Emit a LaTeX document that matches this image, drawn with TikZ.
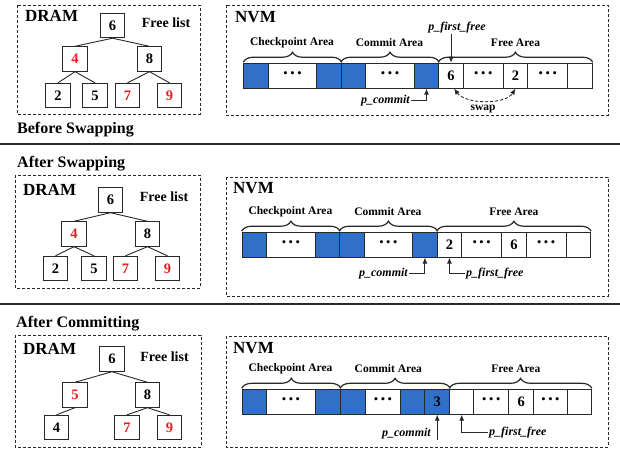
\documentclass[tikz,border=0pt]{standalone}
\usepackage{fontspec}
\setmainfont{Liberation Serif}
\usetikzlibrary{arrows.meta,decorations.pathreplacing}
\definecolor{cblue}{RGB}{48,112,200}
\definecolor{cred}{RGB}{232,30,30}
\definecolor{cline}{RGB}{40,40,40}
\newcommand{\dts}{{\fontsize{19}{19}\selectfont ·\hspace{0.6pt}·\hspace{0.6pt}·}}
\begin{document}
\begin{tikzpicture}[x=1pt,y=-1pt,
 panel/.style={draw=cline, dash pattern=on 3pt off 2pt, line width=0.8pt},
 tnode/.style={draw=cline, line width=0.9pt, minimum size=24.5pt, inner sep=0pt, font=\fontsize{14.5}{14.5}\selectfont\bfseries, fill=white},
 rednum/.style={text=cred},
 tedge/.style={draw=cline, line width=0.9pt},
 cell/.style={draw=cline, line width=0.9pt, minimum height=25pt, inner sep=0pt, anchor=north west, font=\fontsize{14.5}{14.5}\selectfont\bfseries},
 bluecell/.style={cell, fill=cblue},
 brc/.style={decorate, decoration={brace, amplitude=10pt, raise=0.5pt}, line width=1.2pt, draw=cline},
 area/.style={font=\fontsize{11.5}{12}\selectfont\bfseries},
 ptr/.style={font=\fontsize{12}{12}\selectfont\bfseries\itshape, inner sep=1pt},
 arr/.style={draw=cline, line width=0.9pt, -{Latex[length=6pt,width=5pt]}},
 title/.style={font=\fontsize{16}{16}\selectfont\bfseries, anchor=base west, inner sep=0pt},
 big/.style={font=\fontsize{17}{17}\selectfont\bfseries, anchor=base west, inner sep=0pt},
 flist/.style={font=\fontsize{14}{14}\selectfont\bfseries},
 sep/.style={draw=cline, line width=2pt},
]
\useasboundingbox (0,0) rectangle (620,448);

% ================= Panel 1 =================
\draw[panel] (17,5) rectangle (200,114);
\node[big] (dram1) at (25,21) {DRAM};
\node[flist] (fl1) at (166,23) {Free list};
\node[tnode] (a6) at (112.5,25.5) {6};
\node[tnode,rednum] (a4) at (75,59) {4};
\node[tnode] (a8) at (149.5,59) {8};
\node[tnode] (a2) at (58,95.5) {2};
\node[tnode] (a5) at (95,95.5) {5};
\node[tnode,rednum] (a7) at (127.5,95.5) {7};
\node[tnode,rednum] (a9) at (169.5,95.5) {9};
\draw[tedge] (a6.south) -- (a4.north);
\draw[tedge] (a6.south) -- (a8.north);
\draw[tedge] (a4.south) -- (a2.north);
\draw[tedge] (a4.south) -- (a5.north);
\draw[tedge] (a8.south) -- (a7.north);
\draw[tedge] (a8.south) -- (a9.north);
\node[title] (t1) at (17,133) {Before Swapping};

\draw[panel] (226,5) rectangle (608,115);
\node[big] (nvm1) at (235,22) {NVM};
\node[bluecell, minimum width=24.5pt] (p1c1) at (243.3,62.7) {};
\node[cell, minimum width=48.5pt] (p1c2) at (267.8,62.7) {\dts};
\node[bluecell, minimum width=24.5pt] (p1c3) at (316.3,62.7) {};
\node[bluecell, minimum width=24.5pt] (p1c4) at (340.8,62.7) {};
\node[cell, minimum width=48.5pt] (p1c5) at (365.3,62.7) {\dts};
\node[bluecell, minimum width=24.5pt] (p1c6) at (413.8,62.7) {};
\node[cell, minimum width=24.5pt] (p1c7) at (438.3,62.7) {6};
\node[cell, minimum width=40pt] (p1c8) at (462.8,62.7) {\dts};
\node[cell, minimum width=24.5pt] (p1c9) at (502.8,62.7) {2};
\node[cell, minimum width=40pt] (p1c10) at (527.3,62.7) {\dts};
\node[cell, minimum width=24.5pt] (p1c11) at (567.3,62.7) {};
\draw[brc] (p1c1.north west) -- (p1c3.north east);
\draw[brc] (p1c4.north west) -- (p1c6.north east);
\draw[brc] (p1c7.north west) -- (p1c11.north east);
\node[area] (cpa1) at (292,43) {Checkpoint Area};
\node[area] (cma1) at (389.5,43) {Commit Area};
\node[area] (fra1) at (515.5,43) {Free Area};
\node[ptr, anchor=base] (pff1) at (457,30.5) {p\_first\_free};
\draw[arr] (p1c7.north |- pff1.south) -- (p1c7.north);
\node[ptr, anchor=base east] (pc1) at (411,103) {p\_commit};
\draw[arr] (pc1.east) -| (p1c6.south);
\draw[draw=cline, line width=0.9pt, dash pattern=on 3pt off 2pt, {Latex[length=6pt,width=5pt]}-{Latex[length=6pt,width=5pt]}]
  ([xshift=3pt]p1c7.south) .. controls +(12,16) and +(-10,16) .. (p1c9.south);
\node[font=\fontsize{11.5}{11.5}\selectfont\bfseries, anchor=base] (sw1) at (483,110) {swap};

\draw[sep] (0,144) -- (620,144);

% ================= Panel 2 =================
\node[title] (t2) at (17,167) {After Swapping};
\draw[panel] (15,175) rectangle (200,288);
\node[big] (dram2) at (23,195) {DRAM};
\node[flist] (fl2) at (164,197) {Free list};
\node[tnode] (b6) at (110.5,200) {6};
\node[tnode,rednum] (b4) at (74,234) {4};
\node[tnode] (b8) at (147.5,234) {8};
\node[tnode] (b2) at (55.5,268.5) {2};
\node[tnode] (b5) at (94,268.5) {5};
\node[tnode,rednum] (b7) at (125.5,268.5) {7};
\node[tnode,rednum] (b9) at (167.5,268.5) {9};
\draw[tedge] (b6.south) -- (b4.north);
\draw[tedge] (b6.south) -- (b8.north);
\draw[tedge] (b4.south) -- (b2.north);
\draw[tedge] (b4.south) -- (b5.north);
\draw[tedge] (b8.south) -- (b7.north);
\draw[tedge] (b8.south) -- (b9.north);

\draw[panel] (226,177) rectangle (608,296);
\node[big] (nvm2) at (233,193) {NVM};
\node[bluecell, minimum width=24.5pt] (p2c1) at (241.7,231.7) {};
\node[cell, minimum width=48.5pt] (p2c2) at (266.2,231.7) {\dts};
\node[bluecell, minimum width=24.5pt] (p2c3) at (314.7,231.7) {};
\node[bluecell, minimum width=24.5pt] (p2c4) at (339.2,231.7) {};
\node[cell, minimum width=48.5pt] (p2c5) at (363.7,231.7) {\dts};
\node[bluecell, minimum width=24.5pt] (p2c6) at (412.2,231.7) {};
\node[cell, minimum width=24.5pt] (p2c7) at (436.7,231.7) {2};
\node[cell, minimum width=40pt] (p2c8) at (461.2,231.7) {\dts};
\node[cell, minimum width=24.5pt] (p2c9) at (501.2,231.7) {6};
\node[cell, minimum width=40pt] (p2c10) at (525.7,231.7) {\dts};
\node[cell, minimum width=24.5pt] (p2c11) at (565.7,231.7) {};
\draw[brc] (p2c1.north west) -- (p2c3.north east);
\draw[brc] (p2c4.north west) -- (p2c6.north east);
\draw[brc] (p2c7.north west) -- (p2c11.north east);
\node[area] (cpa2) at (290.4,212) {Checkpoint Area};
\node[area] (cma2) at (387.9,212) {Commit Area};
\node[area] (fra2) at (513.9,212) {Free Area};
\node[ptr, anchor=base east] (pc2) at (409,276) {p\_commit};
\draw[arr] (pc2.east) -| (p2c6.south);
\node[ptr, anchor=base west] (pff2) at (465,276) {p\_first\_free};
\draw[arr] (pff2.west) -| (p2c7.south);

\draw[sep] (0,304) -- (620,304);

% ================= Panel 3 =================
\node[title] (t3) at (16,327) {After Committing};
\draw[panel] (15,335) rectangle (201,447);
\node[big] (dram3) at (23,354) {DRAM};
\node[flist] (fl3) at (164.5,357) {Free list};
\node[tnode] (c6) at (112,359) {6};
\node[tnode,rednum] (c5) at (75,395) {5};
\node[tnode] (c8) at (147.5,395) {8};
\node[tnode] (c4) at (56.5,427.5) {4};
\node[tnode,rednum] (c7) at (127,427.5) {7};
\node[tnode,rednum] (c9) at (169.5,427.5) {9};
\draw[tedge] (c6.south) -- (c5.north);
\draw[tedge] (c6.south) -- (c8.north);
\draw[tedge] (c5.south) -- (c4.north);
\draw[tedge] (c8.south) -- (c7.north);
\draw[tedge] (c8.south) -- (c9.north);

\draw[panel] (226,336) rectangle (608,447);
\node[big] (nvm3) at (233,353) {NVM};
\node[bluecell, minimum width=24.3pt] (q1) at (241.7,388.8) {};
\node[cell, minimum width=49pt] (q2) at (266,388.8) {\dts};
\node[bluecell, minimum width=25pt] (q3) at (315,388.8) {};
\node[bluecell, minimum width=25pt] (q4) at (340,388.8) {};
\node[cell, minimum width=35pt] (q5) at (365,388.8) {\dts};
\node[bluecell, minimum width=24.3pt] (q6) at (400,388.8) {};
\node[bluecell, minimum width=25pt] (q7) at (424.3,388.8) {3};
\node[cell, minimum width=24pt] (q8) at (449.3,388.8) {};
\node[cell, minimum width=35pt] (q9) at (473.3,388.8) {\dts};
\node[cell, minimum width=25pt] (q10) at (508.3,388.8) {6};
\node[cell, minimum width=33.4pt] (q11) at (533.3,388.8) {\dts};
\node[cell, minimum width=24.3pt] (q12) at (566.7,388.8) {};
\draw[brc] (q1.north west) -- (q3.north east);
\draw[brc] (q4.north west) -- (q7.north east);
\draw[brc] (q8.north west) -- (q12.north east);
\node[area] (cpa3) at (290.5,369) {Checkpoint Area};
\node[area] (cma3) at (388.3,369) {Commit Area};
\node[area] (fra3) at (515.8,369) {Free Area};
\node[ptr, anchor=base east] (pc3) at (432,436.5) {p\_commit};
\draw[arr] (q7.south |- pc3.south) -- (q7.south);
\node[ptr, anchor=base west] (pff3) at (488,435.5) {p\_first\_free};
\draw[arr] (pff3.west) -| (q8.south);
\end{tikzpicture}
\end{document}
